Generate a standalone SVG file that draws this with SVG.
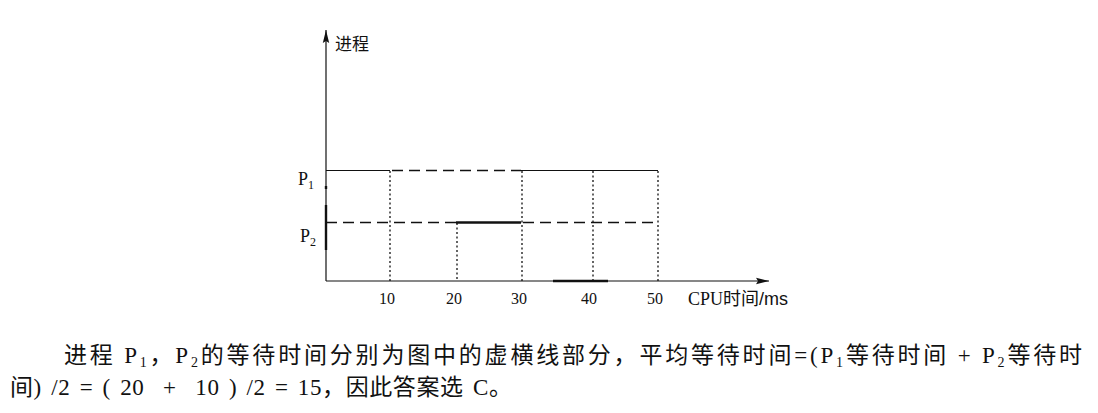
<svg xmlns="http://www.w3.org/2000/svg" width="1098" height="413" viewBox="0 0 1098 413">
<style>
.ln{stroke:#111;stroke-width:1.2;fill:none}
.thk{stroke:#111;stroke-width:2.4;fill:none}
.dash{stroke:#111;stroke-width:1.3;fill:none;stroke-dasharray:11 6}
.dot{stroke:#111;stroke-width:1.3;fill:none;stroke-dasharray:2 2.5}
.ser{font-family:"Liberation Serif","Noto Sans CJK SC",serif;fill:#111}
.cjk{font-family:"Noto Sans CJK SC","Liberation Sans",sans-serif;fill:#111}
</style>
<defs>
<marker id="arr" viewBox="0 0 13 8" refX="13" refY="4" markerWidth="13" markerHeight="8" orient="auto" markerUnits="userSpaceOnUse">
<path d="M0,0.8 L13,4 L0,7.2 L2,4 Z" fill="#111"/>
</marker>
</defs>
<rect width="1098" height="413" fill="#fff"/>
<g id="axes">
<line class="ln" x1="326" y1="281" x2="326" y2="30" marker-end="url(#arr)"/>
<line class="ln" x1="326" y1="281" x2="769" y2="281" marker-end="url(#arr)"/>
<line class="thk" x1="326" y1="205" x2="326" y2="250"/>
<line class="thk" x1="326" y1="186" x2="326" y2="189"/>
<line class="thk" x1="553" y1="281" x2="608" y2="281"/>
</g>
<g id="connectors">
<g id="p1-line">
<line class="ln" x1="326" y1="170.5" x2="390" y2="170.5"/>
<line class="dash" x1="392" y1="170.5" x2="521" y2="170.5"/>
<line class="ln" x1="521" y1="170.5" x2="658" y2="170.5"/>
</g>
<g id="p2-line">
<line class="dash" x1="326" y1="222.5" x2="456" y2="222.5"/>
<line class="thk" x1="456" y1="222.5" x2="521" y2="222.5"/>
<line class="dash" x1="523" y1="222.5" x2="655" y2="222.5"/>
</g>
<g id="grid">
<line class="dot" x1="390" y1="171" x2="390" y2="281"/>
<line class="dot" x1="457" y1="223" x2="457" y2="281"/>
<line class="dot" x1="522" y1="171" x2="522" y2="281"/>
<line class="dot" x1="593" y1="171" x2="593" y2="281"/>
<line class="dot" x1="658" y1="171" x2="658" y2="281"/>
</g>
</g>
<g id="labels">
<text class="cjk" x="335" y="50" font-size="17">进程</text>
<text class="ser" x="298" y="185" font-size="18">P<tspan font-size="12" dy="4">1</tspan></text>
<text class="ser" x="300" y="242" font-size="18">P<tspan font-size="12" dy="4">2</tspan></text>
<g class="ser" font-size="16" text-anchor="middle">
<text x="387" y="304">10</text>
<text x="454" y="304">20</text>
<text x="519" y="304">30</text>
<text x="589" y="304">40</text>
<text x="655" y="304">50</text>
</g>
<text class="ser" x="688" y="305" font-size="18">CPU时间<tspan font-family="Liberation Sans, sans-serif">/ms</tspan></text>
</g>
<g id="paragraph">
<text class="ser" x="64" y="363" font-size="23" textLength="1018" lengthAdjust="spacing">进程 P<tspan font-size="14" dy="4">1</tspan><tspan dy="-4">，P</tspan><tspan font-size="14" dy="4">2</tspan><tspan dy="-4">的等待时间分别为图中的虚横线部分，平均等待时间=(P</tspan><tspan font-size="14" dy="4">1</tspan><tspan dy="-4">等待时间 + P</tspan><tspan font-size="14" dy="4">2</tspan><tspan dy="-4">等待时</tspan></text>
<text class="ser" x="10" y="395" font-size="23" word-spacing="3" letter-spacing="0.6">间) /2 = ( 20 &#160;+ &#160;10 ) /2 = 15，因此答案选 C。</text>
</g>
</svg>
